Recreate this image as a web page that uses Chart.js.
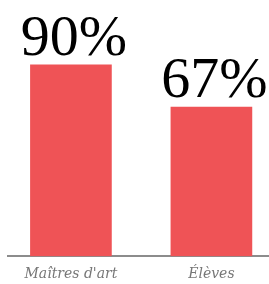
<!DOCTYPE html>
<html>
<head>
<meta charset="utf-8">
<script src="https://cdn.jsdelivr.net/npm/chart.js@4/dist/chart.umd.min.js"></script>
<style>
  html, body { margin: 0; padding: 0; background: #fff; overflow: hidden; }
  #wrap { width: 269px; height: 284px; overflow: hidden; }
</style>
</head>
<body>
<div id="wrap"><canvas id="chart" width="269" height="293"></canvas></div>
<script>
// Data
const categories = ['Maîtres d\'art', 'Élèves'];
const positions = [0, 1];
const values = [90, 67];
const valueLabels = ['90%', '67%'];

const barColor = '#EF5356';

// value labels above each bar
const topLabels = {
    id: 'topLabels',
    afterDatasetsDraw(chart) {
        const { ctx } = chart;
        const meta = chart.getDatasetMeta(0);
        ctx.save();
        ctx.font = '58px "Liberation Serif", serif';
        ctx.fillStyle = '#000';
        ctx.textAlign = 'center';
        ctx.textBaseline = 'alphabetic';
        meta.data.forEach((bar, i) => {
            ctx.fillText(valueLabels[i], bar.x + 3, bar.y - 10);
        });
        ctx.restore();
    }
};

const ctx = document.getElementById('chart').getContext('2d');
new Chart(ctx, {
    type: 'bar',
    data: {
        datasets: [{
            data: positions.map((p, i) => ({ x: p, y: values[i] })),
            backgroundColor: barColor,
            borderWidth: 0,
            barThickness: 81,
            base: -14.4
        }]
    },
    options: {
        responsive: false,
        animation: false,
        layout: { padding: { left: 8, right: 0, top: 0, bottom: 0 } },
        plugins: { legend: { display: false }, tooltip: { enabled: false } },
        scales: {
            x: {
                type: 'linear',
                offset: false,
                min: -0.448,
                max: 1.41,
                grid: { display: false, drawTicks: false },
                border: { display: true, color: '#8c8c8c', width: 2 },
                ticks: {
                    stepSize: 1,
                    includeBounds: false,
                    autoSkip: false,
                    maxRotation: 0,
                    padding: 10,
                    color: '#777',
                    font: { family: '"DejaVu Serif", serif', size: 14, style: 'italic' },
                    callback: v => categories[v] ?? ''
                }
            },
            y: {
                display: false,
                min: -14.4,
                max: 125.4
            }
        }
    },
    plugins: [topLabels]
});
</script>
</body>
</html>
